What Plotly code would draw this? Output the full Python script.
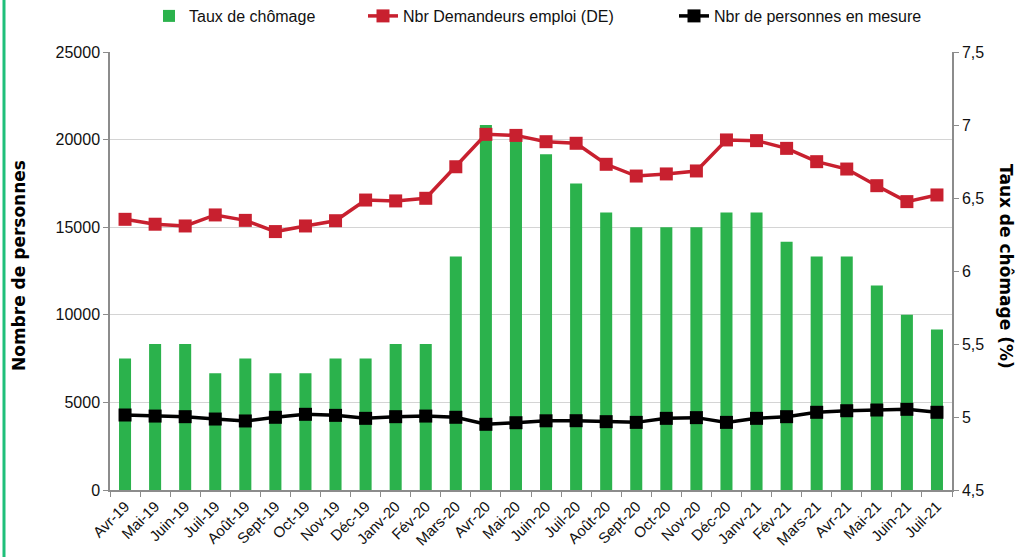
import plotly.graph_objects as go

categories = ["Avr-19", "Mai-19", "Juin-19", "Juil-19", "Août-19", "Sept-19", "Oct-19", "Nov-19",
              "Déc-19", "Janv-20", "Fév-20", "Mars-20", "Avr-20", "Mai-20", "Juin-20", "Juil-20",
              "Août-20", "Sept-20", "Oct-20", "Nov-20", "Déc-20", "Janv-21", "Fév-21", "Mars-21",
              "Avr-21", "Mai-21", "Juin-21", "Juil-21"]

taux_chomage = [5.4, 5.5, 5.5, 5.3, 5.4, 5.3, 5.3, 5.4, 5.4, 5.5, 5.5, 6.1, 7.0, 6.9,
                6.8, 6.6, 6.4, 6.3, 6.3, 6.3, 6.4, 6.4, 6.2, 6.1, 6.1, 5.9, 5.7, 5.6]

demandeurs_emploi = [15450, 15170, 15070, 15700, 15390, 14750, 15070, 15370, 16550, 16500,
                     16650, 18450, 20300, 20240, 19880, 19790, 18590, 17920, 18040, 18210,
                     19980, 19940, 19500, 18740, 18320, 17370, 16460, 16840]

personnes_mesure = [4280, 4220, 4185, 4050, 3940, 4150, 4320, 4260, 4090, 4185, 4220, 4150,
                    3750, 3840, 3950, 3955, 3900, 3860, 4090, 4130, 3860, 4090, 4185, 4435,
                    4525, 4565, 4605, 4435]

left_ticks = [0, 5000, 10000, 15000, 20000, 25000]
left_tick_labels = ["0", "5000", "10000", "15000", "20000", "25000"]
right_ticks = [4.5, 5, 5.5, 6, 6.5, 7, 7.5]
right_tick_labels = ["4,5", "5", "5,5", "6", "6,5", "7", "7,5"]

GREEN = "#2bb24c"
RED = "#c8202f"
FONT = "Liberation Sans, Arial, sans-serif"

# plot area in pixels
PL, PR, PT, PB = 110, 952, 52, 490
PW, PH = PR - PL, PB - PT


def px_x(x):
    return (x - PL) / PW


def px_y(y):
    return (PB - y) / PH


fig = go.Figure()
fig.add_trace(go.Bar(x=categories, y=taux_chomage, name="Taux de chômage",
                     marker=dict(color=GREEN, line=dict(width=0)), width=0.4, yaxis="y",
                     legend="legend"))
fig.add_trace(go.Scatter(x=categories, y=demandeurs_emploi, name="Nbr Demandeurs emploi (DE)",
                         mode="lines+markers", line=dict(color=RED, width=3.5),
                         marker=dict(symbol="square", size=13, color=RED), yaxis="y2",
                         legend="legend2"))
fig.add_trace(go.Scatter(x=categories, y=personnes_mesure, name="Nbr de personnes en mesure",
                         mode="lines+markers", line=dict(color="#000000", width=3.5),
                         marker=dict(symbol="square", size=13, color="#000000"), yaxis="y2",
                         legend="legend3"))

legend_common = dict(orientation="h", xanchor="left", yanchor="middle", y=px_y(16),
                     font=dict(size=16, color="#111111"), bgcolor="rgba(0,0,0,0)",
                     borderwidth=0)

fig.update_layout(
    width=1020, height=557,
    margin=dict(l=PL, r=1020 - PR, t=PT, b=557 - PB, autoexpand=False),
    paper_bgcolor="white", plot_bgcolor="white",
    font=dict(family=FONT, size=15, color="#111111"),
    showlegend=True,
    legend=dict(x=px_x(149), **legend_common),
    legend2=dict(x=px_x(363), **legend_common),
    legend3=dict(x=px_x(674), **legend_common),
    xaxis=dict(type="category", showgrid=False, showline=True, linecolor="#8c8c8c", linewidth=1.5,
               ticks="outside", tickson="boundaries", ticklen=5, tickcolor="#8c8c8c",
               tickangle=-45, tickfont=dict(size=15), range=[-0.5, 27.5], automargin=False),
    yaxis=dict(side="right", range=[4.5, 7.5], tickvals=right_ticks, ticktext=right_tick_labels,
               showgrid=False, showline=True, linecolor="#8c8c8c", linewidth=1.5,
               ticks="outside", ticklen=5, tickcolor="#8c8c8c", zeroline=False,
               tickfont=dict(size=16), automargin=False),
    yaxis2=dict(side="left", overlaying="y", range=[0, 25000], tickvals=left_ticks,
                ticktext=left_tick_labels,
                showgrid=True, gridcolor="#d4d4d4", gridwidth=1.2,
                showline=True, linecolor="#8c8c8c", linewidth=1.5,
                ticks="outside", ticklen=5, tickcolor="#8c8c8c", zeroline=False,
                tickfont=dict(size=16), automargin=False),
    annotations=[
        dict(text="<b>Nombre de personnes</b>", xref="paper", yref="paper",
             x=px_x(19), y=px_y(266), textangle=-90, showarrow=False,
             font=dict(family="DejaVu Sans, sans-serif", size=17, color="#000000"),
             xanchor="center", yanchor="middle"),
        dict(text="<b>Taux de chômage (%)</b>", xref="paper", yref="paper",
             x=px_x(1006), y=px_y(266), textangle=90, showarrow=False,
             font=dict(family="DejaVu Sans, sans-serif", size=17, color="#000000"),
             xanchor="center", yanchor="middle"),
    ],
    shapes=[
        dict(type="line", xref="paper", yref="paper", x0=px_x(4), x1=px_x(4),
             y0=-0.2, y1=1.2, line=dict(color="#1fbf7a", width=3)),
    ],
)

fig.write_html("out.html",
               config={"displayModeBar": False},
               post_script="document.body.style.margin='0';document.body.style.overflow='hidden';")
